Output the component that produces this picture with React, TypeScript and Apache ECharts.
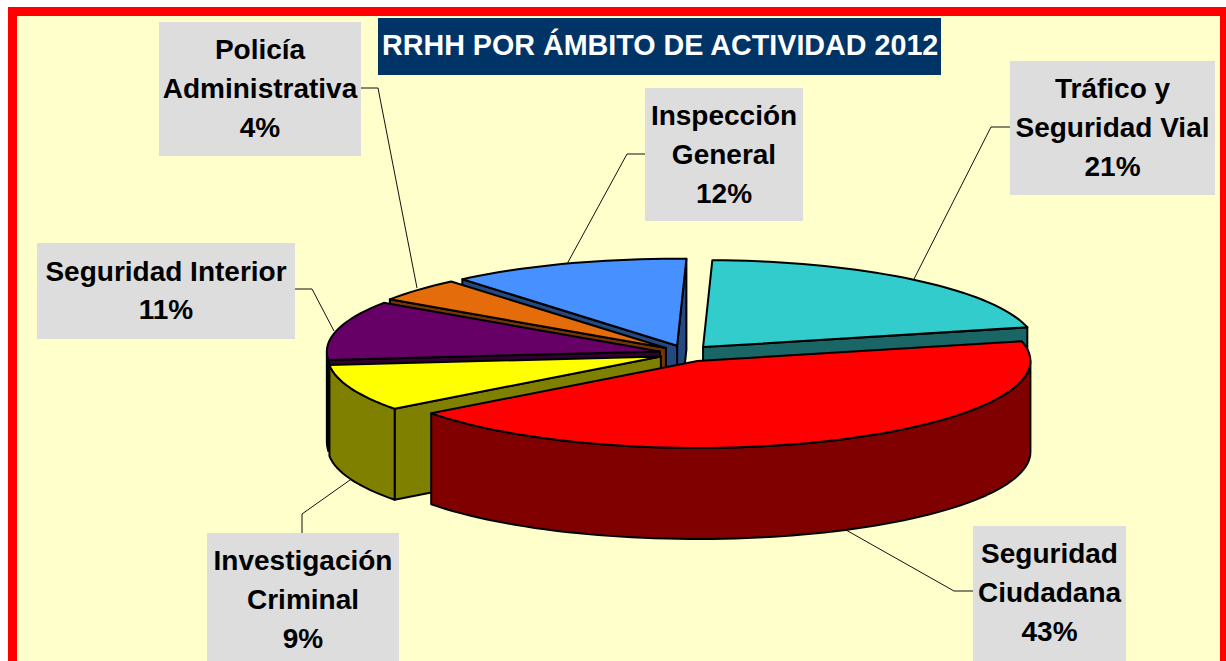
import React, { useEffect, useRef } from "react";
import * as echarts from "echarts";

const categories = ["Tráfico y\nSeguridad Vial", "Seguridad\nCiudadana", "Investigación\nCriminal", "Seguridad Interior", "Policía\nAdministrativa", "Inspección\nGeneral"];
const values = [20.9, 43.4, 8.7, 11, 4.4, 11.6];
const topColors = ["#33CCCC", "#FF0000", "#FFFF00", "#660066", "#E46C0A", "#4691FF"];
const sideColors = ["#1A6666", "#800000", "#808000", "#330033", "#733605", "#234980"];
const chartTitle = "RRHH POR ÁMBITO DE ACTIVIDAD 2012";
// back-to-front painting order of the slices
const paintOrder = [5, 4, 3, 2, 0, 1];

// label boxes: x, y, w, h
const labelBoxes = [
  [1010, 61, 205, 134],
  [973, 526, 153, 135],
  [207, 533, 192, 130],
  [37, 243, 258, 96],
  [159, 22, 202, 134],
  [645, 88, 158, 133],
];
const leaders = [
  [[1010, 127], [991, 127], [914, 279]],
  [[973, 591], [954, 591], [846, 530]],
  [[302, 533], [302, 514], [350, 480]],
  [[295, 289], [312, 289], [334, 331]],
  [[361, 88], [378, 88], [417, 288]],
  [[645, 154], [627, 154], [567, 264]],
];

const CX = 686, CY = 353.5, RX = 333, RY = 87, DEPTH = 91, EXPLODE = 0.081, START = 1.6;
const total = values.reduce((a, b) => a + b, 0);
const rad = (d: number) => (d * Math.PI) / 180;

function sliceAngles(i: number) {
  let s = START;
  for (let k = 0; k < i; k++) s += (values[k] / total) * 360;
  return [s, s + (values[i] / total) * 360];
}

function renderSlice(_: any, api: any) {
  const i = api.value(0) as number;
  const [a0, a1] = sliceAngles(i);
  const mid = rad((a0 + a1) / 2);
  const ax = CX + Math.sin(mid) * RX * EXPLODE;
  const ay = CY - Math.cos(mid) * RY * EXPLODE * 1.17;
  const P = (deg: number, d = 0) => [ax + Math.sin(rad(deg)) * RX, ay - Math.cos(rad(deg)) * RY + d];
  const apex = (d = 0) => [ax, ay + d];
  const style = (fill: string) => ({ fill, stroke: "#000", lineWidth: 2, lineJoin: "round" });
  const children: any[] = [];
  const side = sideColors[i];
  const steps = (from: number, to: number) => {
    const n = Math.max(2, Math.ceil((to - from) / 2));
    return Array.from({ length: n + 1 }, (_, k) => from + ((to - from) * k) / n);
  };
  if (Math.sin(rad(a1)) > 0) {
    children.push({ type: "polygon", shape: { points: [apex(), P(a1), P(a1, DEPTH), apex(DEPTH)] }, style: style(side) });
  }
  if (Math.sin(rad(a0)) < 0) {
    children.push({ type: "polygon", shape: { points: [apex(), P(a0), P(a0, DEPTH), apex(DEPTH)] }, style: style(side) });
  }
  const r0 = Math.max(a0, 90), r1 = Math.min(a1, 270);
  if (r1 > r0) {
    const arc = steps(r0, r1);
    const pts = [...arc.map((d) => P(d)), ...arc.slice().reverse().map((d) => P(d, DEPTH))];
    children.push({ type: "polygon", shape: { points: pts }, style: style(side) });
  }
  children.push({ type: "polygon", shape: { points: [apex(), ...steps(a0, a1).map((d) => P(d))] }, style: style(topColors[i]) });
  return { type: "group", children };
}

export default function App() {
  const ref = useRef<HTMLDivElement>(null);
  useEffect(() => {
    const chart = echarts.init(ref.current!, null, { renderer: "svg" });
    const graphic: any[] = [
      { type: "rect", z: -3, shape: { x: 8, y: 7, width: 1218, height: 660 }, style: { fill: "#FF0000" } },
      { type: "rect", z: -2, shape: { x: 17, y: 16, width: 1203, height: 650 }, style: { fill: "#FFFFCC" } },
      { type: "rect", z: 5, shape: { x: 378, y: 18, width: 563, height: 57 }, style: { fill: "#003366" } },
    ];
    leaders.forEach((pts) => {
      graphic.push({ type: "polyline", z: 1, shape: { points: pts }, style: { fill: "none", stroke: "#111", lineWidth: 1 } });
    });
    labelBoxes.forEach(([x, y, w, h], i) => {
      graphic.push({ type: "rect", z: 6, shape: { x, y, width: w, height: h }, style: { fill: "#DDDDDD" } });
      const lines = categories[i].split("\n").length + 1;
      graphic.push({
        type: "text",
        z: 7,
        x: x + w / 2,
        y: lines === 2 ? y + h / 2 - 0.5 : y + 66.5,
        style: {
          text: `${categories[i]}\n${Math.round((values[i] / total) * 100)}%`,
          font: 'bold 28px "Liberation Sans"',
          lineHeight: 38.7,
          fill: "#000",
          align: "center",
          verticalAlign: "middle",
        },
      });
    });
    chart.setOption({
      animation: false,
      backgroundColor: "#FFFFFF",
      title: {
        text: chartTitle,
        left: 382,
        top: 30,
        padding: 0,
        textStyle: { color: "#FFFFFF", fontFamily: "Liberation Sans", fontWeight: "bold", fontSize: 28.7 },
      },
      graphic,
      series: [
        {
          type: "custom",
          coordinateSystem: "none",
          renderItem: renderSlice,
          data: paintOrder.map((i) => ({ name: categories[i], value: [i, values[i]] })),
          z: 2,
          silent: true,
        },
      ],
    });
    return () => chart.dispose();
  }, []);
  return <div ref={ref} style={{ position: "absolute", left: 0, top: 0, width: 1226, height: 661 }} />;
}
